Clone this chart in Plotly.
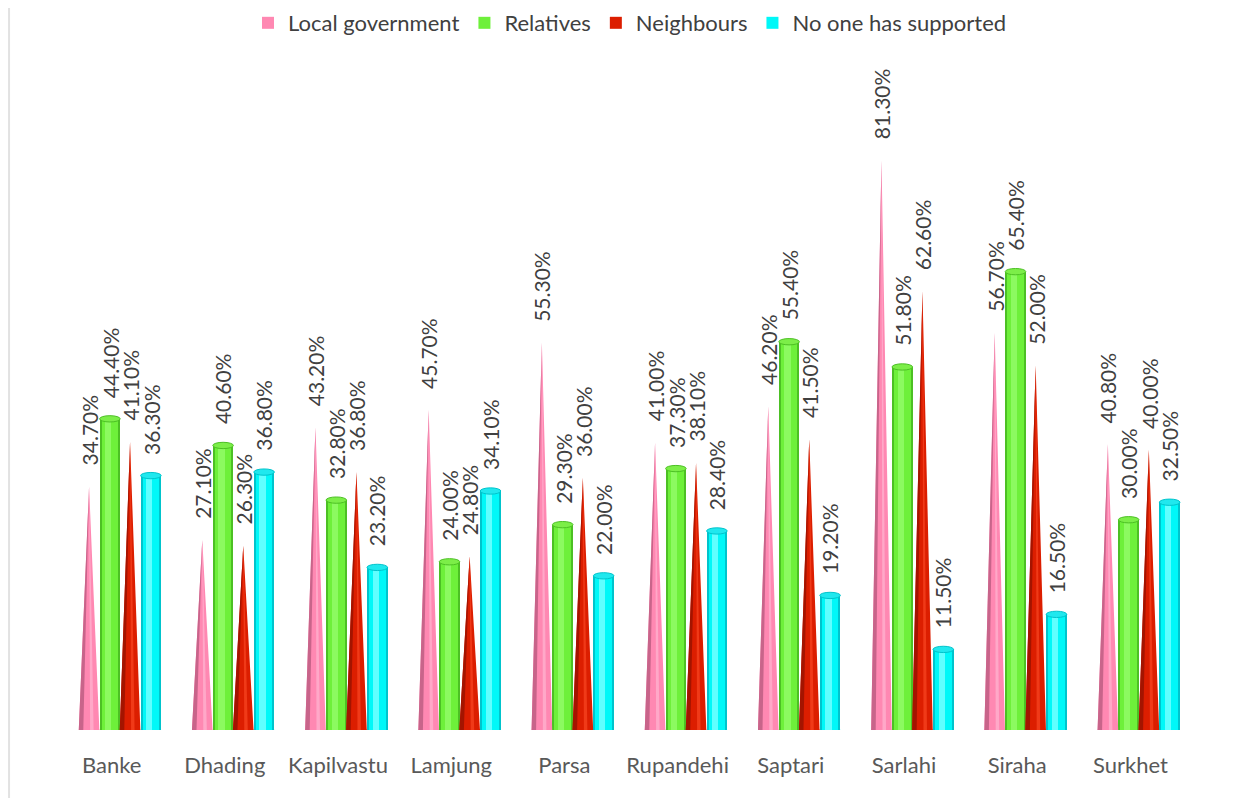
import plotly.graph_objects as go

districts = ["Banke", "Dhading", "Kapilvastu", "Lamjung", "Parsa", "Rupandehi",
             "Saptari", "Sarlahi", "Siraha", "Surkhet"]
local_government = [34.7, 27.1, 43.2, 45.7, 55.3, 41.0, 46.2, 81.3, 56.7, 40.8]
relatives = [44.4, 40.6, 32.8, 24.0, 29.3, 37.3, 55.4, 51.8, 65.4, 30.0]
neighbours = [41.1, 26.3, 36.8, 24.8, 36.0, 38.1, 41.5, 62.6, 52.0, 40.0]
no_one = [36.3, 36.8, 23.2, 34.1, 22.0, 28.4, 19.2, 11.5, 16.5, 32.5]

W = 0.182          # bar width in category units
OFF = [-0.199, -0.015, 0.163, 0.347]
EH = 0.45          # half height of ellipse caps (data units)
FONT = "Lato, 'Gill Sans', 'Open Sans', sans-serif"

fig = go.Figure()
shapes = []
annotations = []

def legend_marker(name, color, rank):
    fig.add_trace(go.Scatter(x=[None], y=[None], mode="markers",
                             marker=dict(symbol="square", size=12, color=color),
                             name=name, legendrank=rank))

def cone(name, vals, off, main, dark, light, rank):
    xs, ys, xd, yd, xl, yl = [], [], [], [], [], []
    for i, v in enumerate(vals):
        c = i + off
        xs += [c - W / 2, c, c + W / 2, None]
        ys += [0, v, 0, None]
        xd += [c - W / 2, c, c - W / 2 + W * 0.22, None]
        yd += [0, v, 0, None]
        xl += [c + W * 0.05, c, c + W * 0.22, None]
        yl += [0, v, 0, None]
        shapes.append(dict(type="circle", xref="x", yref="y", x0=c - W / 2, x1=c + W / 2,
                           y0=-EH, y1=EH, fillcolor=main, line=dict(width=0), layer="below"))
    fig.add_trace(go.Scatter(x=xs, y=ys, fill="toself", fillcolor=main, mode="lines",
                             line=dict(width=0, color=main), showlegend=False,
                             hoverinfo="skip"))
    fig.add_trace(go.Scatter(x=xd, y=yd, fill="toself", fillcolor=dark, mode="lines",
                             line=dict(width=0, color=dark), showlegend=False, hoverinfo="skip"))
    fig.add_trace(go.Scatter(x=xl, y=yl, fill="toself", fillcolor=light, mode="lines",
                             line=dict(width=0, color=light), showlegend=False, hoverinfo="skip"))
    legend_marker(name, main, rank)

def cylinder(name, vals, off, main, dark, light, cap, rank):
    xs = [i + off for i in range(len(vals))]
    fig.add_trace(go.Bar(x=xs, y=vals, width=W, marker=dict(color=dark, line=dict(width=0)),
                         showlegend=False, hoverinfo="skip"))
    fig.add_trace(go.Bar(x=xs, y=vals, width=W * 0.8, marker=dict(color=main, line=dict(width=0)),
                         showlegend=False, hoverinfo="skip"))
    fig.add_trace(go.Bar(x=[x - W * 0.08 for x in xs], y=vals, width=W * 0.3,
                         marker=dict(color=light, line=dict(width=0)),
                         showlegend=False, hoverinfo="skip"))
    legend_marker(name, main, rank)
    for i, v in enumerate(vals):
        c = i + off
        shapes.append(dict(type="circle", xref="x", yref="y", x0=c - W / 2, x1=c + W / 2,
                           y0=v - EH, y1=v + EH, fillcolor=cap,
                           line=dict(width=1, color=dark), layer="above"))
        shapes.append(dict(type="circle", xref="x", yref="y", x0=c - W / 2, x1=c + W / 2,
                           y0=-EH, y1=EH, fillcolor=main, line=dict(width=0), layer="below"))

cone("Local government", local_government, OFF[0], "#FF88B2", "#C8648A", "#FFA8C8", 1)
cylinder("Relatives", relatives, OFF[1], "#6EF03A", "#4CC024", "#8CFA60", "#7CEE48", 2)
cone("Neighbours", neighbours, OFF[2], "#DC1E00", "#A41400", "#F03A18", 3)
cylinder("No one has supported", no_one, OFF[3], "#00F8F8", "#00C4CC", "#60FFFF", "#20E8EE", 4)

for vals, off in zip([local_government, relatives, neighbours, no_one], OFF):
    for i, v in enumerate(vals):
        annotations.append(dict(x=i + off, y=v, xref="x", yref="y", text=f"{v:.2f}%",
                                textangle=-90, showarrow=False, yanchor="bottom",
                                xanchor="center", yshift=19,
                                font=dict(family=FONT, size=21, color="#404040")))

# light left border of the chart area
shapes.append(dict(type="line", xref="paper", yref="paper", x0=-0.0406, x1=-0.0406,
                   y0=-0.2, y1=1.2, line=dict(color="#E2E2E2", width=2)))

fig.update_layout(
    width=1244, height=790,
    paper_bgcolor="white", plot_bgcolor="white",
    barmode="overlay", bargap=0,
    margin=dict(l=47, r=65, t=52, b=68, autoexpand=False),
    shapes=shapes, annotations=annotations,
    showlegend=True,
    legend=dict(orientation="h", x=0.5, xanchor="center", xref="container",
                y=0.981, yanchor="middle", yref="container",
                font=dict(family=FONT, size=22, color="#404040"),
                itemwidth=30, traceorder="normal", itemsizing="constant"),
    xaxis=dict(range=[-0.5, 9.5], tickvals=list(range(len(districts))), ticktext=districts,
               showgrid=False, zeroline=False, showline=False, ticks="",
               ticklabelstandoff=20,
               tickfont=dict(family=FONT, size=22, color="#595959"), fixedrange=True),
    yaxis=dict(range=[0, 95.6], visible=False, showgrid=False, zeroline=False, fixedrange=True),
)

fig.write_html("out.html")
